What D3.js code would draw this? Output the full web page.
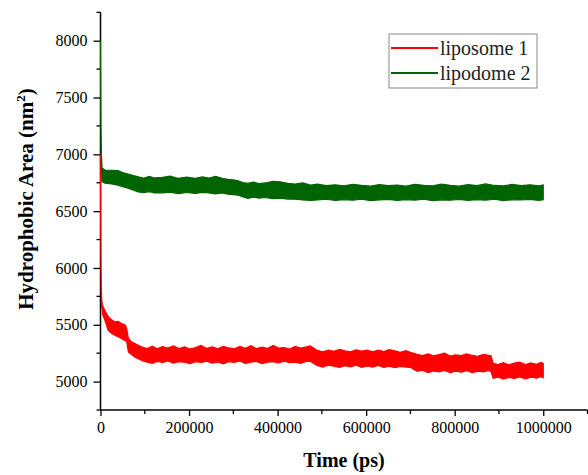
<!DOCTYPE html>
<html>
<head>
<meta charset="utf-8">
<script src="https://cdn.jsdelivr.net/npm/d3@7"></script>
<style>
  body { margin: 0; background: #fff; }
  text { font-family: "Liberation Serif", "Times New Roman", serif; }
</style>
</head>
<body>
<div id="chart"></div>
<script>
// time points (ps) and band envelopes (nm^2)
var red_t = [0, 300, 800, 1500, 2700, 5000, 10000, 17500, 25000, 33000, 40000, 48000, 55000, 59000, 63000, 70000, 78000,
	93000, 105000, 117000, 128000, 140000, 152000, 165000, 177000, 190000, 202000, 215000, 227000, 240000, 252000, 265000,
	277000, 290000, 302000, 315000, 327000, 340000, 352000, 365000, 377000, 390000, 402000, 415000, 427000, 440000, 452000,
	465000, 474000,
	489000, 502000, 515000, 527000, 540000, 552000, 565000, 577000, 590000, 602000, 615000, 627000, 640000, 652000, 665000,
	677000, 690000, 700000,
	715000, 727000, 740000, 752000, 765000, 777000, 790000, 802000, 815000, 827000, 840000, 852000, 865000, 877000, 882000,
	887000, 898000, 910000, 922000, 935000, 947000, 960000, 972000, 985000, 995000, 1000000];
var red_hi = [7000, 6700, 6250, 5900, 5720, 5665, 5625, 5570, 5545, 5525, 5530, 5510, 5500, 5470, 5380, 5350, 5335,
	5305, 5290, 5312, 5288, 5308, 5295, 5315, 5290, 5305, 5286, 5300, 5318, 5292, 5306, 5289,
	5310, 5296, 5288, 5309, 5293, 5316, 5290, 5304, 5292, 5318, 5295, 5300, 5286, 5310, 5294,
	5305, 5315,
	5275, 5262, 5278, 5266, 5284, 5270, 5262, 5280, 5268, 5276, 5262, 5278, 5265, 5281, 5270,
	5258, 5272, 5258,
	5240, 5228, 5244, 5226, 5238, 5250, 5224, 5236, 5228, 5244, 5230, 5222, 5240, 5230, 5228,
	5160, 5150, 5166, 5148, 5162, 5172, 5150, 5164, 5152, 5168, 5160];
var red_lo = [6980, 6620, 6150, 5800, 5655, 5590, 5540, 5450, 5425, 5405, 5395, 5378, 5362, 5355, 5262, 5238, 5214,
	5186, 5172, 5160, 5178, 5168, 5181, 5162, 5175, 5170, 5158, 5176, 5168, 5180, 5163, 5172,
	5155, 5176, 5169, 5182, 5160, 5172, 5178, 5158, 5170, 5176, 5164, 5179, 5166, 5172, 5160,
	5178, 5180,
	5142, 5128, 5145, 5135, 5124, 5140, 5130, 5144, 5126, 5138, 5128, 5142, 5125, 5136, 5122,
	5134, 5128, 5126,
	5090, 5100, 5078, 5094, 5086, 5098, 5080, 5092, 5084, 5096, 5080, 5092, 5086, 5098, 5088,
	5030, 5040, 5022, 5036, 5028, 5042, 5024, 5038, 5030, 5044, 5035];

var green_t = [0, 400, 1000, 2000, 3400, 10000, 25000, 39500, 50000, 62000, 75000,
	85000, 97000, 110000, 122000, 140000, 157000, 175000, 195000, 214000, 230000, 245000, 260000, 275000, 288000, 300000,
	311000, 322000, 333000, 345000, 358000, 372000, 389000, 406000, 423000, 440000, 457000, 474000,
	490000, 510000, 530000, 550000, 570000, 590000, 610000, 630000, 650000, 670000, 690000, 710000, 730000, 750000,
	770000, 790000, 810000, 830000, 850000, 870000, 890000, 910000, 930000, 950000, 970000, 990000, 1000000];
var green_hi = [8000, 7600, 7250, 7000, 6880, 6862, 6860, 6856, 6840, 6826, 6812,
	6803, 6790, 6806, 6792, 6797, 6808, 6788, 6800, 6788, 6802, 6792, 6806, 6788, 6780, 6775,
	6767, 6752, 6744, 6756, 6742, 6748, 6762, 6758, 6744, 6738, 6750, 6729,
	6738, 6724, 6732, 6722, 6736, 6726, 6720, 6734, 6724, 6730, 6720, 6736, 6726, 6722,
	6738, 6728, 6720, 6734, 6724, 6740, 6726, 6722, 6736, 6724, 6732, 6722, 6730];
var green_lo = [7980, 7500, 7150, 6900, 6760, 6747, 6740, 6729, 6715, 6703, 6685,
	6670, 6662, 6672, 6660, 6661, 6668, 6654, 6664, 6656, 6666, 6660, 6652, 6660, 6650, 6645,
	6641, 6625, 6612, 6624, 6615, 6620, 6610, 6615, 6606, 6605, 6598, 6595,
	6598, 6606, 6594, 6602, 6596, 6606, 6592, 6600, 6604, 6594, 6602, 6596, 6606, 6592,
	6600, 6596, 6604, 6594, 6602, 6596, 6606, 6592, 6600, 6598, 6604, 6594, 6600];

var series_names = ['liposome 1', 'lipodome 2'];
var series_colors = ['#ff0000', '#006400'];

var x_ticks = [0, 200000, 400000, 600000, 800000, 1000000];
var x_minor = [100000, 300000, 500000, 700000, 900000, 1100000];
var y_ticks = [5000, 5500, 6000, 6500, 7000, 7500, 8000];
var y_minor = [4750, 5250, 5750, 6250, 6750, 7250, 7750, 8250];

// Chart
var width = 588, height = 475;
var serif = '"Liberation Serif", "Times New Roman", serif';
var x_scale = d3.scaleLinear().domain([0, 1100000]).range([100.5, 587.5]);
var y_scale = d3.scaleLinear().domain([4750, 8250]).range([410, 12.3]);

var svg = d3.select('#chart').append('svg')
	.attr('width', width)
	.attr('height', height);

// axes
var x_axis = svg.append('g')
	.attr('transform', 'translate(0,' + y_scale(4750) + ')')
	.call(d3.axisBottom(x_scale).tickValues(x_ticks).tickSize(6).tickPadding(6).tickFormat(d3.format('d')));
x_axis.append('g').selectAll('line')
	.data(x_minor)
	.enter().append('line')
	.attr('x1', function(d) { return x_scale(d); })
	.attr('x2', function(d) { return x_scale(d); })
	.attr('y1', 0).attr('y2', 4)
	.attr('stroke', '#000').attr('stroke-width', 1.3);

var y_axis = svg.append('g')
	.attr('transform', 'translate(' + x_scale(0) + ',0)')
	.call(d3.axisLeft(y_scale).tickValues(y_ticks).tickSize(7).tickPadding(6).tickFormat(d3.format('d')));
y_axis.append('g').selectAll('line')
	.data(y_minor)
	.enter().append('line')
	.attr('y1', function(d) { return y_scale(d); })
	.attr('y2', function(d) { return y_scale(d); })
	.attr('x1', 0).attr('x2', -4)
	.attr('stroke', '#000').attr('stroke-width', 1.3);

[x_axis, y_axis].forEach((a) => {
	a.attr('font-family', serif).attr('font-size', 16);
	a.select('.domain').attr('stroke', '#000').attr('stroke-width', 1.5);
	a.selectAll('.tick line').attr('stroke', '#000').attr('stroke-width', 1.3);
	a.selectAll('.tick text')
		.attr('fill', '#000')
		.attr('font-family', serif)
		.attr('font-size', 16);
});
// axis lines without end caps
x_axis.select('.domain').attr('d', 'M' + x_scale(0) + ',0H' + x_scale(1100000));
y_axis.select('.domain').attr('d', 'M0,' + y_scale(8250) + 'V' + y_scale(4750));

// bands, drawn over the axis like the original
function band(t, hi, lo) {
	return t.map((d, i) => { return {t: d, hi: hi[i], lo: lo[i]}; });
}
var bands = [band(red_t, red_hi, red_lo), band(green_t, green_hi, green_lo)];

var area = d3.area()
	.x(function(d) { return x_scale(d.t); })
	.y0(function(d) { return y_scale(d.lo); })
	.y1(function(d) { return y_scale(d.hi); });

bands.forEach((b, i) => {
	svg.append('path')
		.datum(b)
		.attr('d', area)
		.attr('fill', series_colors[i])
		.attr('stroke', series_colors[i])
		.attr('stroke-width', 1.2)
		.attr('stroke-linejoin', 'miter');
});

// titles
svg.append('text')
	.attr('x', 344)
	.attr('y', 467)
	.attr('text-anchor', 'middle')
	.attr('font-weight', 'bold')
	.attr('font-size', 20)
	.text('Time (ps)');

var y_title = svg.append('text')
	.attr('transform', 'translate(33,199) rotate(-90)')
	.attr('text-anchor', 'middle')
	.attr('font-weight', 'bold')
	.attr('font-size', 21);
y_title.append('tspan').text('Hydrophobic Area (nm');
y_title.append('tspan').attr('font-size', 13).attr('dy', -8).text('2');
y_title.append('tspan').attr('dy', 8).text(')');

// legend
var legend = svg.append('g').attr('transform', 'translate(389,34)');
legend.append('rect')
	.attr('width', 148).attr('height', 54)
	.attr('fill', '#fff')
	.attr('stroke', '#888')
	.attr('stroke-width', 1);
series_names.forEach((n, i) => {
	legend.append('line')
		.attr('x1', 2).attr('x2', 49)
		.attr('y1', 14 + i * 25).attr('y2', 14 + i * 25)
		.attr('stroke', series_colors[i])
		.attr('stroke-width', 2);
	legend.append('text')
		.attr('x', 51)
		.attr('y', 14 + i * 25)
		.attr('dy', '0.33em')
		.attr('font-size', 20)
		.attr('fill', '#222')
		.text(n);
});
</script>
</body>
</html>
